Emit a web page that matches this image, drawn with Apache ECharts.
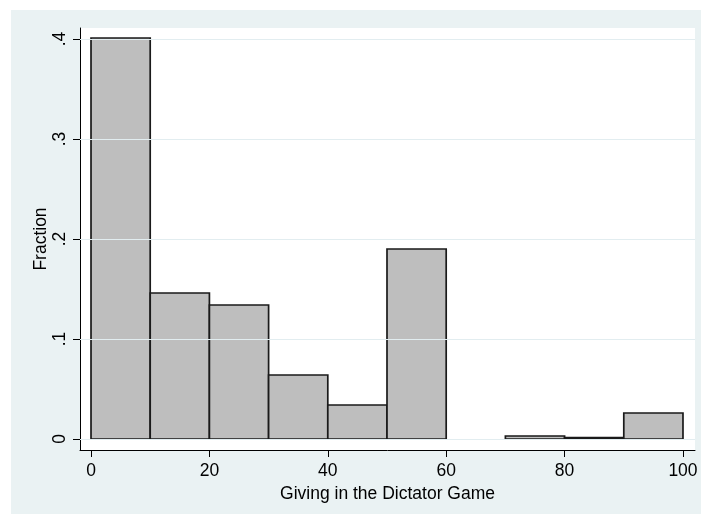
<!DOCTYPE html>
<html>
<head>
<meta charset="utf-8">
<script src="https://cdn.jsdelivr.net/npm/echarts@6/dist/echarts.min.js"></script>
<style>
  html, body { margin: 0; padding: 0; background: #ffffff; }
  #chart { width: 701px; height: 514px; }
</style>
</head>
<body>
<div id="chart"></div>
<script>
// Histogram of giving in the dictator game, bins of width 10
const binStarts = [0, 10, 20, 30, 40, 50, 60, 70, 80, 90];
const binWidth = 10;
const fractions = [0.401, 0.146, 0.134, 0.064, 0.034, 0.190, 0, 0.003, 0.0015, 0.026];
const xTicks = [0, 20, 40, 60, 80, 100];
const yTicks = [0, 0.1, 0.2, 0.3, 0.4];
const yTickLabels = ['0', '.1', '.2', '.3', '.4'];

const FONT = '"Liberation Sans", Arial, Helvetica, sans-serif';

const bins = binStarts.map((s, i) => [s, s + binWidth, fractions[i]]);

const chart = echarts.init(document.getElementById('chart'), null, { renderer: 'canvas' });

chart.setOption({
  backgroundColor: '#ffffff',
  animation: false,
  graphic: [{
    type: 'rect',
    z: -10,
    shape: { x: 11, y: 10, width: 690, height: 504 },
    style: { fill: '#eaf2f3' },
    silent: true
  }],
  grid: {
    left: 80, right: 6, top: 28, bottom: 64,
    show: true, backgroundColor: '#ffffff', borderWidth: 0
  },
  xAxis: {
    type: 'value',
    min: -1.86, max: 102.03,
    name: 'Giving in the Dictator Game',
    nameLocation: 'middle',
    nameGap: 32,
    nameTextStyle: { fontFamily: FONT, fontSize: 17.5, color: '#000' },
    axisLine: { show: true, onZero: false, lineStyle: { color: '#000', width: 1 } },
    axisTick: { show: true, length: 7, customValues: xTicks, lineStyle: { color: '#000' } },
    axisLabel: { customValues: xTicks, margin: 12, fontFamily: FONT, fontSize: 17.5, color: '#000' },
    splitLine: { show: false }
  },
  yAxis: {
    type: 'value',
    min: -0.011, max: 0.411,
    name: 'Fraction',
    nameLocation: 'middle',
    nameGap: 30,
    nameMoveOverlap: false,
    nameRotate: 90,
    nameTextStyle: { fontFamily: FONT, fontSize: 17.5, color: '#000' },
    axisLine: { show: true, onZero: false, lineStyle: { color: '#000', width: 1 } },
    axisTick: { show: true, length: 7, customValues: yTicks, lineStyle: { color: '#000' } },
    axisLabel: {
      customValues: yTicks, rotate: 90, margin: 11,
      fontFamily: FONT, fontSize: 17.5, color: '#000',
      formatter: v => yTickLabels[yTicks.findIndex(t => Math.abs(t - v) < 1e-9)]
    },
    splitLine: { show: false }
  },
  series: [
    {
      // horizontal grid lines at the labelled fractions
      type: 'line',
      data: [],
      z: 1,
      silent: true,
      markLine: {
        silent: true,
        symbol: 'none',
        label: { show: false },
        lineStyle: { color: '#e2edf0', width: 1.2, type: 'solid' },
        data: yTicks.map(t => ({ yAxis: t }))
      }
    },
    {
      type: 'custom',
      z: 3,
      data: bins,
      encode: { x: [0, 1], y: 2 },
      renderItem: function (params, api) {
        const h = api.value(2);
        if (!h) return null;
        const p0 = api.coord([api.value(0), 0]);
        const p1 = api.coord([api.value(1), h]);
        return {
          type: 'rect',
          shape: { x: p0[0], y: p1[1], width: p1[0] - p0[0], height: p0[1] - p1[1] },
          style: { fill: '#bebebe', stroke: '#1a1a1a', lineWidth: 1.7 }
        };
      }
    }
  ]
});
</script>
</body>
</html>
